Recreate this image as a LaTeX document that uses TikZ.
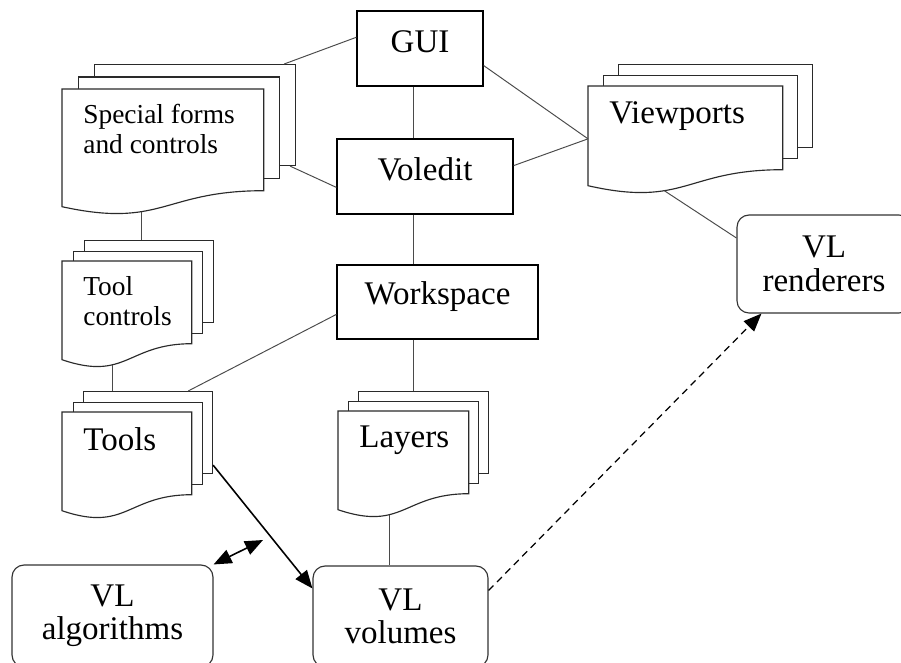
\documentclass[tikz,border=0pt]{standalone}
\usepackage{fontspec}
\setmainfont{Liberation Serif}
\usepackage{tikz}
\usetikzlibrary{arrows.meta, positioning, calc}
\definecolor{linegray}{HTML}{4A4A4A}
\definecolor{sheetgray}{HTML}{2A2A2A}

\newcommand{\boxfont}{\fontsize{18.8}{19}\selectfont}
\newcommand{\notefont}{\fontsize{15.6}{17}\selectfont}

\tikzset{
    modbox/.style={draw=black, line width=0.75pt, minimum height=1.5cm, font=\boxfont,
                   text height=0.44cm, text depth=0.26cm},
    vlbox/.style={draw=black!80, line width=0.65pt, rounded corners=0.24cm,
                  align=center, font=\boxfont},
    sheet/.style={draw=sheetgray, fill=white, line width=0.65pt, anchor=north west, inner sep=0pt},
    sheettext/.style={anchor=north west, inner sep=0pt, align=left},
    link/.style={draw=linegray, line width=0.55pt},
    flow/.style={draw=black, line width=0.9pt},
}

% stack of documents: name, x, y (front sheet top left), width, height, shift x, shift y, font, text
\newcommand{\docstack}[9]{%
    \node[sheet, minimum width=#4*0.02cm, minimum height=#5*0.02cm] (#1b) at (#2+2*#6, #3-2*#7) {};
    \node[sheet, minimum width=#4*0.02cm, minimum height=#5*0.02cm] (#1m) at (#2+#6, #3-#7) {};
    \node[anchor=north west, inner sep=0pt, minimum width=#4*0.02cm, minimum height=#5*0.02cm] (#1) at (#2, #3) {};
    \draw[sheet] (#1.north west) -- (#1.north east) -- (#1.south east)
        .. controls +(-#4/2, 0) and +(#4/2, 22) .. ($(#1.south west)+(0,16)$) coordinate[pos=0.64] (#1w) -- cycle;
    \node[sheettext, font=#8] (#1t) at ($(#1.north west)+(21,15)$) {#9};
}

\begin{document}
\begin{tikzpicture}[x=0.02cm, y=-0.02cm, >={Triangle[length=0.36cm, width=0.29cm]}]
    \useasboundingbox (0,0) rectangle (901,662);

    % main modules
    \node[modbox, minimum width=2.52cm] (gui) at (420, 48.5) {GUI};
    \node[modbox, minimum width=3.52cm] (voledit) at (425, 176.5) {Voledit};
    \node[modbox, minimum width=4.02cm, minimum height=1.48cm, text depth=0.36cm] (workspace) at (437.5, 302) {Workspace};

    % document stacks
    \docstack{sforms}{62}{89}{201}{101}{16}{12.5}{\notefont}{Special forms\\and controls}
    \docstack{viewports}{588}{86}{194}{83}{15}{11}{\boxfont}{Viewports}
    \docstack{toolctl}{62}{261}{129}{82}{11}{10.5}{\notefont}{Tool\\controls}
    \docstack{tools}{62}{412}{129}{82}{10.5}{10.5}{\boxfont}{Tools}
    \docstack{layers}{338}{411}{130}{82}{10}{10}{\boxfont}{Layers}

    % VL library
    \node[vlbox, minimum width=3.48cm, minimum height=1.96cm] (renderers) at (824, 264) {VL\\renderers};
    \node[vlbox, minimum width=4.02cm, minimum height=2.04cm] (algorithms) at (112.5, 616) {VL\\algorithms};
    \node[vlbox, minimum width=3.5cm, minimum height=2.02cm] (volumes) at (400.5, 616.5) {VL\\volumes};

    % links
    \coordinate (spine) at (413, 0);
    \draw[link] (gui.south -| spine) -- (voledit.north -| spine);
    \draw[link] (voledit.south -| spine) -- (workspace.north -| spine);
    \draw[link] (workspace.south -| spine) -- (layersb.north -| spine);
    \draw[link] (gui.170) -- ($(sformsb.north east)+(-12,0)$);
    \draw[link] (voledit.187) -- ($(sformsb.south east)+(-6,0)$);
    \draw[link] (gui.-15) -- ([yshift=-0.22cm]viewports.west);
    \draw[link] (voledit.7) -- ([yshift=-0.22cm]viewports.west);
    \draw[link] (viewportsw) -- ([yshift=0.52cm]renderers.west);
    \draw[link] (sformsw) -- (sformsw |- toolctlb.north);
    \draw[link] (toolctlw) -- (toolctlw |- toolsb.north);
    \draw[link] (workspace.187) -- ($(toolsb.north east)+(-25,0)$);
    \draw[link] (layersw) -- (layersw |- volumes.north);

    % arrows
    \draw[flow, ->] ($(toolsb.south east)+(0,-9)$) -- ($(volumes.west)+(0,-28)$);
    \coordinate (algoend) at (263, 540);
    \draw[flow, <->] (algorithms.north east) -- (algoend);
    \draw[flow, ->, line width=0.7pt, dash pattern=on 0.14cm off 0.1cm] ($(volumes.east)+(0,-26)$) -- ($(renderers.south west)+(25,0)$);
\end{tikzpicture}
\end{document}
